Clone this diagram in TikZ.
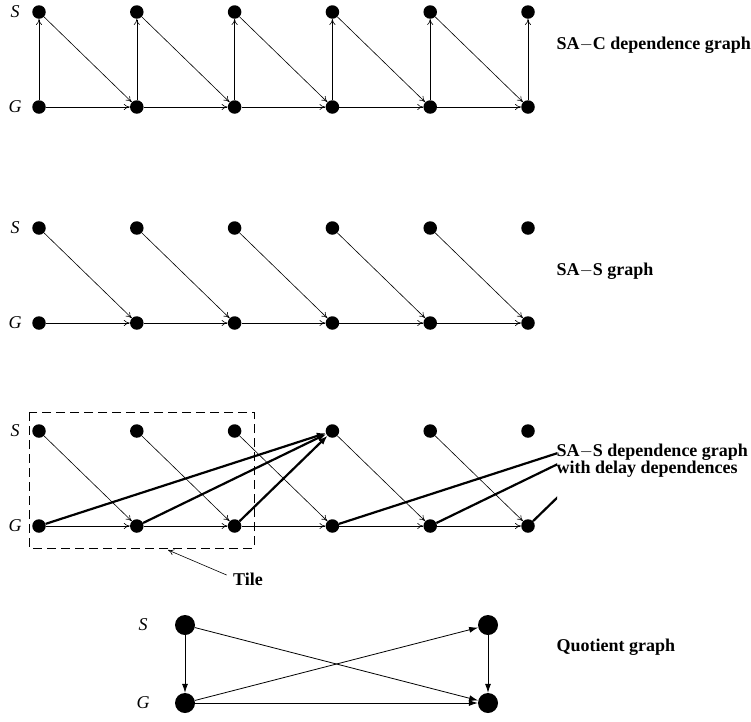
\documentclass[tikz,border=0pt]{standalone}
\usepackage{fontspec}
\setmainfont{Liberation Serif}
\usetikzlibrary{arrows.meta}

\tikzset{
    dot/.style={circle,fill=black,inner sep=0pt,minimum size=13.5pt},
    bigdot/.style={circle,fill=black,inner sep=0pt,minimum size=20pt},
    dep/.style={line width=.6pt,-{To[length=6pt,width=6pt]}},
    delay/.style={line width=2.2pt,-{Latex[length=9pt,width=7pt]}},
    qdep/.style={line width=.8pt,-{Latex[length=9pt,width=6pt]}},
    rowlabel/.style={font=\fontsize{18}{20}\selectfont\itshape},
    caption/.style={font=\fontsize{18}{17}\selectfont\bfseries,anchor=west,align=left}
}

\begin{document}
\begin{tikzpicture}[x=1pt,y=-1pt]
        \useasboundingbox (0,0) rectangle (751,721);

        % SA-C dependence graph
        \foreach \i in {1,...,6}{
            \node[dot] (cS\i) at ({39+97.8*(\i-1)},12){};
            \node[dot] (cG\i) at ({39+97.8*(\i-1)},107){};
            \draw[dep] (cG\i) -- (cS\i);
        }
        \foreach \i [evaluate=\i as \j using int(\i+1)] in {1,...,5}{
            \draw[dep] (cS\i) -- (cG\j);
            \draw[dep] (cG\i) -- (cG\j);
        }
        \node[rowlabel] (cSl) at (15,12){S};
        \node[rowlabel] (cGl) at (15,107){G};
        \node[caption] (cCap) at (553,45){SA$-$C dependence graph};

        % SA-S graph
        \foreach \i in {1,...,6}{
            \node[dot] (sS\i) at ({39+97.8*(\i-1)},228){};
            \node[dot] (sG\i) at ({39+97.8*(\i-1)},323){};
        }
        \foreach \i [evaluate=\i as \j using int(\i+1)] in {1,...,5}{
            \draw[dep] (sS\i) -- (sG\j);
            \draw[dep] (sG\i) -- (sG\j);
        }
        \node[rowlabel] (sSl) at (15,228){S};
        \node[rowlabel] (sGl) at (15,323){G};
        \node[caption] (sCap) at (553,271){SA$-$S graph};

        % SA-S dependence graph with delay dependences
        \foreach \i in {1,...,6}{
            \node[dot] (dS\i) at ({39+97.8*(\i-1)},431){};
            \node[dot] (dG\i) at ({39+97.8*(\i-1)},526){};
        }
        \coordinate (dS7) at ({39+97.8*6},431);
        \foreach \i [evaluate=\i as \j using int(\i+1)] in {1,...,5}{
            \draw[dep] (dS\i) -- (dG\j);
            \draw[dep] (dG\i) -- (dG\j);
        }
        \foreach \i in {1,2,3}
            \draw[delay] (dG\i) -- (dS4);
        \begin{scope}
            \clip (0,380) rectangle (557,560);
            \foreach \i in {4,5,6}
                \draw[line width=2.2pt] (dG\i) -- (dS7);
        \end{scope}
        \node[rowlabel] (dSl) at (15,431){S};
        \node[rowlabel] (dGl) at (15,526){G};
        \node[caption] (dCap) at (553,461){SA$-$S dependence graph\\with delay dependences};

        % Tile
        \draw[dash pattern=on 9pt off 5pt,line width=.7pt] (29,412) rectangle (254,548);
        \node[font=\fontsize{18}{20}\selectfont\bfseries] (tile) at (248,579){Tile};
        \coordinate (tileTip) at (168,550);
        \draw[dep] (tile.west) ++(-3,-4) -- (tileTip);

        % Quotient graph
        \node[bigdot] (qS1) at (185,625){};
        \node[bigdot] (qS2) at (488,625){};
        \node[bigdot] (qG1) at (185,703){};
        \node[bigdot] (qG2) at (488,703){};
        \draw[qdep] (qS1) -- (qG1);
        \draw[qdep] (qS2) -- (qG2);
        \draw[qdep] (qS1) -- (qG2);
        \draw[qdep] (qG1) -- (qS2);
        \draw[qdep] (qG1) -- (qG2);
        \node[rowlabel] (qSl) at (143,625){S};
        \node[rowlabel] (qGl) at (143,703){G};
        \node[caption] (qCap) at (553,647){Quotient graph};

    \end{tikzpicture}
\end{document}
